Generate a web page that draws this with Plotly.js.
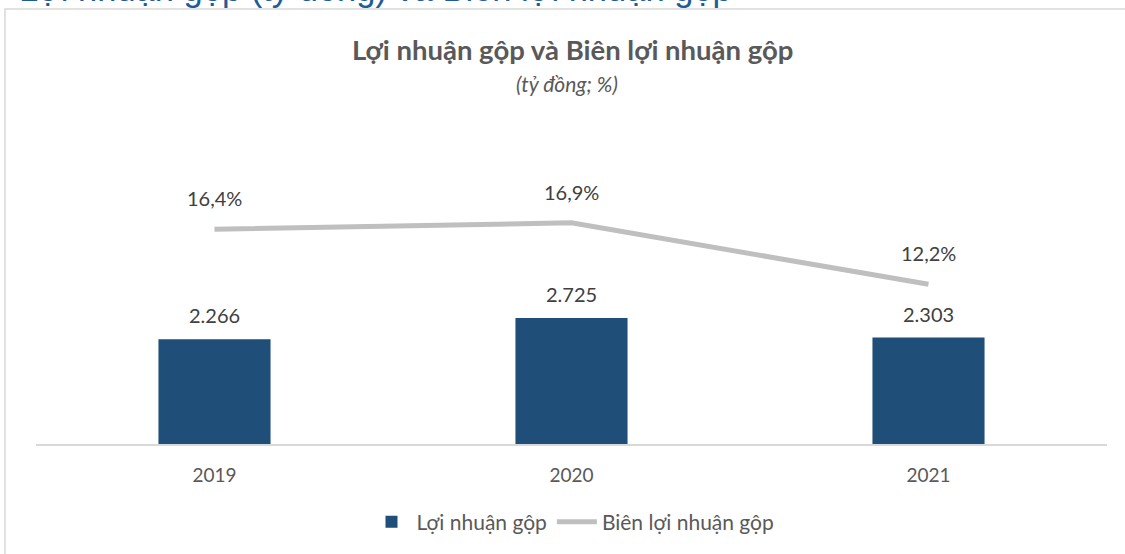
<!DOCTYPE html>
<html>
<head>
<meta charset="utf-8">
<script src="https://cdn.plot.ly/plotly-3.0.1.min.js"></script>
<style>html,body{margin:0;padding:0;background:#fff;}#chart{width:1125px;height:554px;}</style>
</head>
<body>
<div id="chart"></div>
<script>
// ---- data ----
const years = ['2019', '2020', '2021'];
const grossProfit = [2266, 2725, 2303];          // tỷ đồng
const grossMargin = [16.4, 16.9, 12.2];          // %
const grossProfitLabels = ['2.266', '2.725', '2.303'];
const grossMarginLabels = ['16,4%', '16,9%', '12,2%'];
const seriesNames = ['Lợi nhuận gộp', 'Biên lợi nhuận gộp'];
const chartTitle = 'Lợi nhuận gộp và Biên lợi nhuận gộp';
const chartSubtitle = '(tỷ đồng; %)';
const pageTitle = 'Lợi nhuận gộp (tỷ đồng) và Biên lợi nhuận gộp';

// ---- layout geometry ----
const W = 1125, H = 554;
const M = {l: 36, r: 18, t: 100, b: 110};
const PW = W - M.l - M.r, PH = H - M.t - M.b;
const px2x = p => (p - M.l) / PW;
const px2y = p => (H - M.b - p) / PH;

const FONT = 'Lato, "Open Sans", sans-serif';

const traces = [
  {
    type: 'bar', x: years, y: grossProfit, name: seriesNames[0],
    marker: {color: '#1f4e79'}, hoverinfo: 'x+y'
  },
  {
    type: 'scatter', mode: 'lines', x: years, y: grossMargin, name: seriesNames[1],
    yaxis: 'y2', line: {color: '#bfbfbf', width: 5}, hoverinfo: 'x+y'
  }
];

const annotations = [];
years.forEach((yr, i) => {
  annotations.push({x: i, y: grossProfit[i], xref: 'x', yref: 'y', text: grossProfitLabels[i],
    showarrow: false, yshift: 24, font: {family: FONT, size: 20, color: '#404040'}});
  annotations.push({x: i, y: grossMargin[i], xref: 'x', yref: 'y2', text: grossMarginLabels[i],
    showarrow: false, yshift: 31, font: {family: FONT, size: 20, color: '#404040'}});
});
annotations.push({xref: 'paper', yref: 'paper', x: px2x(572), y: px2y(50), text: '<b>' + chartTitle + '</b>',
  showarrow: false, xanchor: 'center', yanchor: 'middle', font: {family: FONT, size: 27.5, color: '#595959'}});
annotations.push({xref: 'paper', yref: 'paper', x: px2x(567), y: px2y(84), text: '<i>' + chartSubtitle + '</i>',
  showarrow: false, xanchor: 'center', yanchor: 'middle', font: {family: FONT, size: 21, color: '#595959'}});
annotations.push({xref: 'paper', yref: 'paper', x: px2x(17), y: px2y(-11), text: pageTitle,
  showarrow: false, xanchor: 'left', yanchor: 'middle', font: {family: '"Liberation Sans", Arial, sans-serif', size: 34.5, color: '#1d5c9a'}});

const layout = {
  width: W, height: H,
  margin: M,
  paper_bgcolor: '#ffffff', plot_bgcolor: '#ffffff',
  showlegend: true,
  bargap: 0.686,
  font: {family: FONT, color: '#595959'},
  xaxis: {
    type: 'category', range: [-0.5, years.length - 0.5], autorange: false,
    showgrid: false, zeroline: false,
    showline: true, linecolor: '#d9d9d9', linewidth: 1.5,
    ticks: '', ticklabelstandoff: 14,
    tickfont: {family: FONT, size: 19, color: '#595959'}
  },
  yaxis: {range: [0, PH / (126 / 2725)], autorange: false, visible: false, showgrid: false, zeroline: false},
  yaxis2: {range: [0, PH / 13.09], autorange: false, overlaying: 'y', side: 'right', visible: false, showgrid: false, zeroline: false},
  legend: {
    orientation: 'h', xref: 'paper', yref: 'paper', x: px2x(573), xanchor: 'center',
    y: px2y(522), yanchor: 'middle', font: {family: FONT, size: 21, color: '#595959'},
    bgcolor: 'rgba(0,0,0,0)', itemwidth: 40, tracegroupgap: 0
  },
  annotations: annotations,
  shapes: [{
    type: 'rect', xref: 'paper', yref: 'paper', layer: 'below',
    x0: px2x(5), x1: px2x(1135), y0: px2y(9), y1: px2y(570),
    line: {color: '#d9d9d9', width: 1.5}, fillcolor: 'rgba(0,0,0,0)'
  }]
};

Plotly.newPlot('chart', traces, layout, {displayModeBar: false, staticPlot: true});
</script>
</body>
</html>
